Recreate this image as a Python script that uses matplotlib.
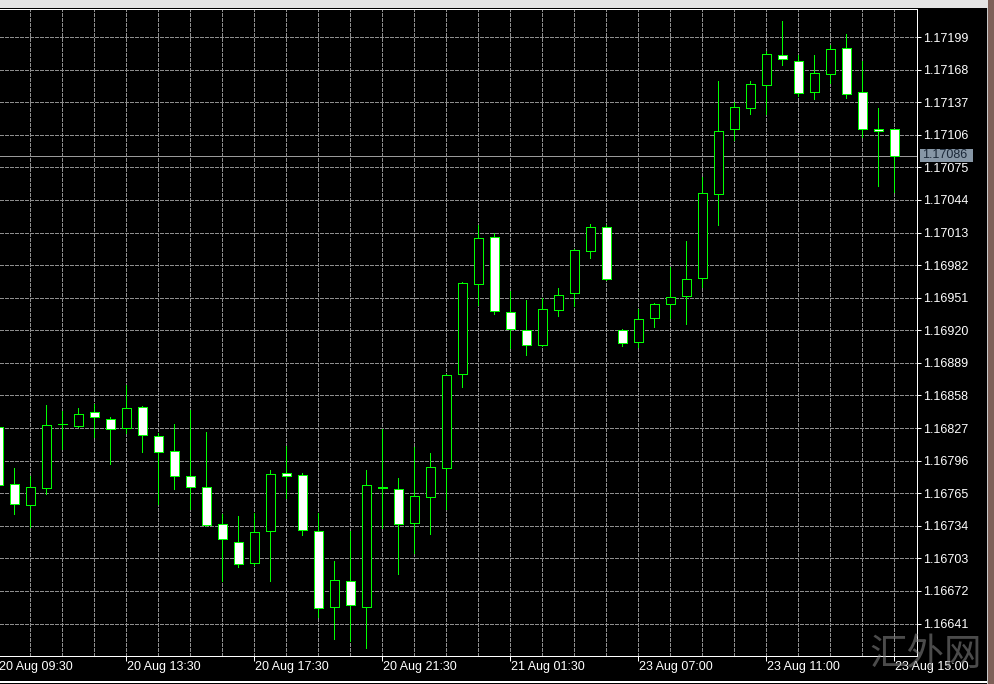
import matplotlib
matplotlib.use('Agg')
from matplotlib import pyplot as plt
from matplotlib.patches import Rectangle

plt.rcParams['font.family'] = ['Liberation Sans', 'DejaVu Sans']

# EURUSD M30 candles (oldest first)
opens = [1.16828, 1.16774, 1.16754, 1.16770, 1.16831, 1.16829, 1.16842, 1.16836,
         1.16827, 1.16847, 1.16819, 1.16805, 1.16781, 1.16771, 1.16736, 1.16719,
         1.16699, 1.16729, 1.16784, 1.16782, 1.16729, 1.16657, 1.16681, 1.16657,
         1.16771, 1.16769, 1.16737, 1.16761, 1.16789, 1.16878, 1.16964, 1.17009,
         1.16937, 1.16920, 1.16906, 1.16939, 1.16955, 1.16995, 1.17018, 1.16920,
         1.16909, 1.16932, 1.16945, 1.16953, 1.16970, 1.17050, 1.17111, 1.17131,
         1.17153, 1.17182, 1.17176, 1.17147, 1.17164, 1.17189, 1.17147, 1.17111,
         1.17111]
highs = [1.16835, 1.16789, 1.16781, 1.16849, 1.16843, 1.16846, 1.16850, 1.16837,
         1.16868, 1.16848, 1.16822, 1.16831, 1.16844, 1.16823, 1.16745, 1.16743,
         1.16746, 1.16787, 1.16810, 1.16784, 1.16746, 1.16700, 1.16729, 1.16787,
         1.16826, 1.16779, 1.16809, 1.16803, 1.16878, 1.16966, 1.17020, 1.17013,
         1.16957, 1.16949, 1.16951, 1.16960, 1.16997, 1.17021, 1.17020, 1.16921,
         1.16940, 1.16946, 1.16980, 1.17005, 1.17066, 1.17157, 1.17137, 1.17157,
         1.17186, 1.17214, 1.17182, 1.17182, 1.17191, 1.17202, 1.17176, 1.17131,
         1.17111]
lows = [1.16765, 1.16745, 1.16733, 1.16764, 1.16807, 1.16828, 1.16818, 1.16793,
        1.16822, 1.16804, 1.16755, 1.16769, 1.16750, 1.16734, 1.16681, 1.16695,
        1.16697, 1.16681, 1.16760, 1.16725, 1.16647, 1.16626, 1.16624, 1.16618,
        1.16732, 1.16688, 1.16708, 1.16726, 1.16750, 1.16866, 1.16944, 1.16935,
        1.16903, 1.16896, 1.16905, 1.16934, 1.16943, 1.16989, 1.16968, 1.16905,
        1.16904, 1.16923, 1.16932, 1.16926, 1.16961, 1.17020, 1.17101, 1.17126,
        1.17126, 1.17172, 1.17143, 1.17140, 1.17155, 1.17141, 1.17104, 1.17057,
        1.17052]
closes = [1.16773, 1.16755, 1.16771, 1.16830, 1.16831, 1.16840, 1.16837, 1.16826,
          1.16846, 1.16820, 1.16804, 1.16781, 1.16771, 1.16735, 1.16721, 1.16698,
          1.16728, 1.16783, 1.16781, 1.16730, 1.16656, 1.16682, 1.16659, 1.16773,
          1.16770, 1.16736, 1.16762, 1.16790, 1.16877, 1.16965, 1.17008, 1.16938,
          1.16921, 1.16906, 1.16940, 1.16954, 1.16996, 1.17018, 1.16969, 1.16908,
          1.16931, 1.16945, 1.16952, 1.16969, 1.17051, 1.17110, 1.17132, 1.17154,
          1.17183, 1.17178, 1.17146, 1.17165, 1.17188, 1.17145, 1.17111, 1.17110,
          1.17086]

time_labels = ['20 Aug 09:30', '20 Aug 13:30', '20 Aug 17:30', '20 Aug 21:30',
               '21 Aug 01:30', '23 Aug 07:00', '23 Aug 11:00', '23 Aug 15:00']
label_every = 8
price_step = 0.00031
price_base = 1.16641
n_levels = 19
bid = 1.17086

W, H = 994, 684
px = 1.0 / 100 * 72  # one pixel in points

fig = plt.figure(figsize=(W / 100, H / 100), dpi=100, facecolor='black')

def fx(x):
    return x / W

def fy(y):
    return 1 - y / H

ax = fig.add_axes([0, fy(656), fx(917), (656 - 9) / H])
ax.set_facecolor('black')

# pixel scale of the price axis (1.16641 at y=623.5, 1.17199 at y=37)
ppu = (623.5 - 37) / 0.00558
ax.set_ylim(1.17199 - (656 - 37) / ppu, 1.17199 + (37 - 9) / ppu)
ax.set_xlim(2 / 16, 919 / 16)

levels = [price_base + price_step * k for k in range(n_levels)]
grid_kw = dict(color='#8e8e8e', lw=px, ls=(0, (3, 2)), zorder=1, antialiased=False)
for lv in levels:
    ax.axhline(lv, **grid_kw)
for i in range(2, len(opens), 2):
    ax.axvline(i, **grid_kw)

ax.axhline(bid, color='#9a9a9a', lw=px, zorder=2, antialiased=False)

green = '#00ff00'
ax.vlines(range(len(opens)), lows, highs, color=green, lw=px, zorder=3, antialiased=False)
bw = 9 / 16
for i, (o, c) in enumerate(zip(opens, closes)):
    face = 'white' if c < o else 'black'
    ax.add_patch(Rectangle((i - bw / 2, min(o, c)), bw, abs(c - o), facecolor=face,
                           edgecolor=green, lw=px, zorder=4, antialiased=False))

# axes frame like MT4
for side in ['top', 'right', 'bottom']:
    ax.spines[side].set_color('white')
    ax.spines[side].set_linewidth(px)
ax.spines['left'].set_visible(False)

ax.yaxis.tick_right()
ax.set_yticks(levels)
ax.set_yticklabels([f'{lv:.5f}' for lv in levels])
ax.tick_params(axis='y', colors='white', length=2.9, width=px, pad=1.3, labelsize=9)

ax.set_xticks(range(label_every, len(opens), label_every))
ax.set_xticklabels([])
ax.tick_params(axis='x', colors='white', length=3.6, width=px)
for k, lab in enumerate(time_labels):
    ax.annotate(lab, xy=(k * label_every, 0), xycoords=('data', 'axes fraction'),
                xytext=(0.7, -8.0), textcoords='offset points', ha='left', va='center',
                color='white', fontsize=9, annotation_clip=False)

# bid price label
fig.patches.append(Rectangle((fx(920), fy(162)), fx(53), 13 / H, transform=fig.transFigure,
                             facecolor='#8797a6', edgecolor='none', zorder=5))
fig.text(fx(922.5), fy(155.5), f'{bid:.5f}', color='#1b2838', fontsize=9,
         ha='left', va='center', zorder=6)

# window chrome
fig.patches.append(Rectangle((0, fy(8)), 1, 8 / H, transform=fig.transFigure,
                             facecolor='#e4e4e4', edgecolor='none'))
fig.patches.append(Rectangle((fx(988), 0), fx(6), 1, transform=fig.transFigure,
                             facecolor='#7e6058', edgecolor='none'))
fig.patches.append(Rectangle((fx(987), 0), fx(1), fy(8), transform=fig.transFigure,
                             facecolor='#c8c8c8', edgecolor='none'))
fig.patches.append(Rectangle((0, fy(682.5)), fx(987), 1.5 / H, transform=fig.transFigure,
                             facecolor='white', edgecolor='none'))

# watermark
fig.text(fx(926), fy(654), '汇外网', fontsize=27, family=['Noto Sans CJK SC', 'DejaVu Sans'],
         color='#8a8a8a', alpha=0.55, ha='center', va='center', zorder=10)

fig.savefig('out.png', dpi=100, facecolor='black')
